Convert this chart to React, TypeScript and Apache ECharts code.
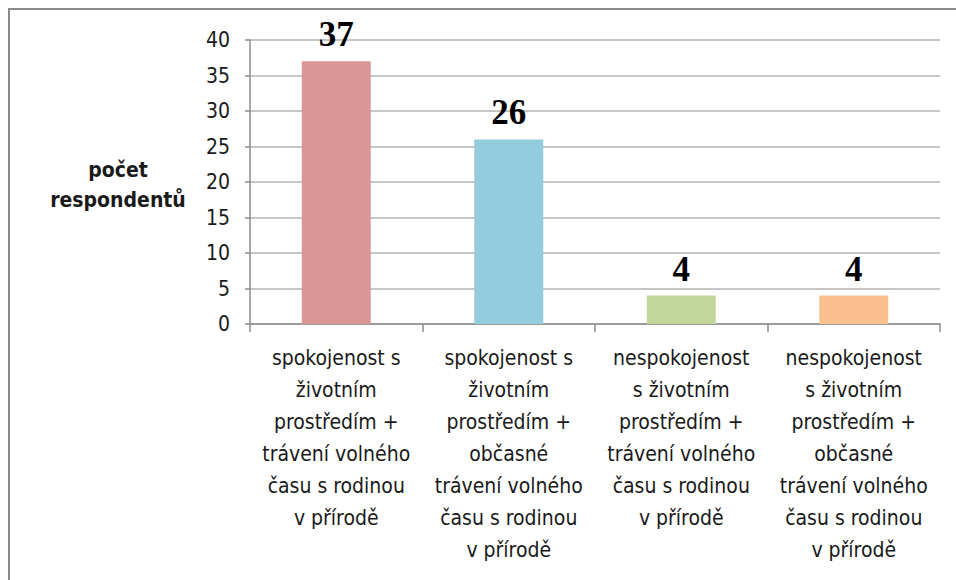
import React, { useEffect, useRef } from "react";
import * as echarts from "echarts";

const categories: string[] = [
  "spokojenost s\nživotním\nprostředím +\ntrávení volného\nčasu s rodinou\nv přírodě",
  "spokojenost s\nživotním\nprostředím +\nobčasné\ntrávení volného\nčasu s rodinou\nv přírodě",
  "nespokojenost\ns životním\nprostředím +\ntrávení volného\nčasu s rodinou\nv přírodě",
  "nespokojenost\ns životním\nprostředím +\nobčasné\ntrávení volného\nčasu s rodinou\nv přírodě",
];
const values: number[] = [37, 26, 4, 4];
const barColors: string[] = ["#D99694", "#93CDDD", "#C3D69B", "#FAC090"];
const yTicks = { min: 0, max: 40, interval: 5 };
const yTitle = "počet\nrespondentů";

const sansFont = "'Liberation Sans Narrow', 'DejaVu Sans Condensed', 'Open Sans', sans-serif";

export default function App() {
  const ref = useRef<HTMLDivElement>(null);
  useEffect(() => {
    if (!ref.current) return;
    const chart = echarts.init(ref.current, undefined, { renderer: "svg" });
    chart.setOption({
      animation: false,
      backgroundColor: "#ffffff",
      grid: { left: 250, right: 16, top: 40, bottom: 256, containLabel: false },
      xAxis: {
        type: "category",
        data: categories,
        axisLine: { show: true, lineStyle: { color: "#8c8c8c", width: 1.5 } },
        axisTick: { show: true, alignWithLabel: false, length: 8, lineStyle: { color: "#8c8c8c", width: 1.5 } },
        axisLabel: {
          interval: 0,
          margin: 18,
          color: "#1a1a1a",
          fontSize: 21,
          lineHeight: 32,
          fontFamily: sansFont,
          align: "center",
        },
      },
      yAxis: {
        type: "value",
        min: yTicks.min,
        max: yTicks.max,
        interval: yTicks.interval,
        axisLine: { show: true, lineStyle: { color: "#8c8c8c", width: 1.5 } },
        axisTick: { show: true, length: 5, lineStyle: { color: "#8c8c8c", width: 1.5 } },
        splitLine: { show: true, lineStyle: { color: "#b3b3b3", width: 1.5 } },
        axisLabel: { color: "#1a1a1a", fontSize: 21, margin: 20, fontFamily: sansFont },
      },
      series: [
        {
          type: "bar",
          data: values.map((v, i) => ({ value: v, itemStyle: { color: barColors[i] } })),
          barWidth: "40%",
          label: {
            show: true,
            position: "top",
            distance: 9,
            fontSize: 35,
            fontWeight: "bold",
            color: "#000000",
            fontFamily: "'Liberation Serif', 'DejaVu Serif', serif",
          },
        },
      ],
      graphic: [
        {
          type: "rect",
          shape: { x: 9, y: 9, width: 1200, height: 1200 },
          style: { fill: "none", stroke: "#8a8a8a", lineWidth: 2 },
          silent: true,
        },
        {
          type: "text",
          x: 118,
          y: 185,
          style: {
            text: yTitle,
            fontSize: 21,
            fontWeight: "bold",
            lineHeight: 30,
            fill: "#1a1a1a",
            fontFamily: sansFont,
            align: "center",
            verticalAlign: "middle",
          },
        },
      ],
    });
    return () => chart.dispose();
  }, []);
  return (
    <div
      ref={ref}
      style={{ position: "absolute", left: 0, top: 0, width: 956, height: 580 }}
    />
  );
}
